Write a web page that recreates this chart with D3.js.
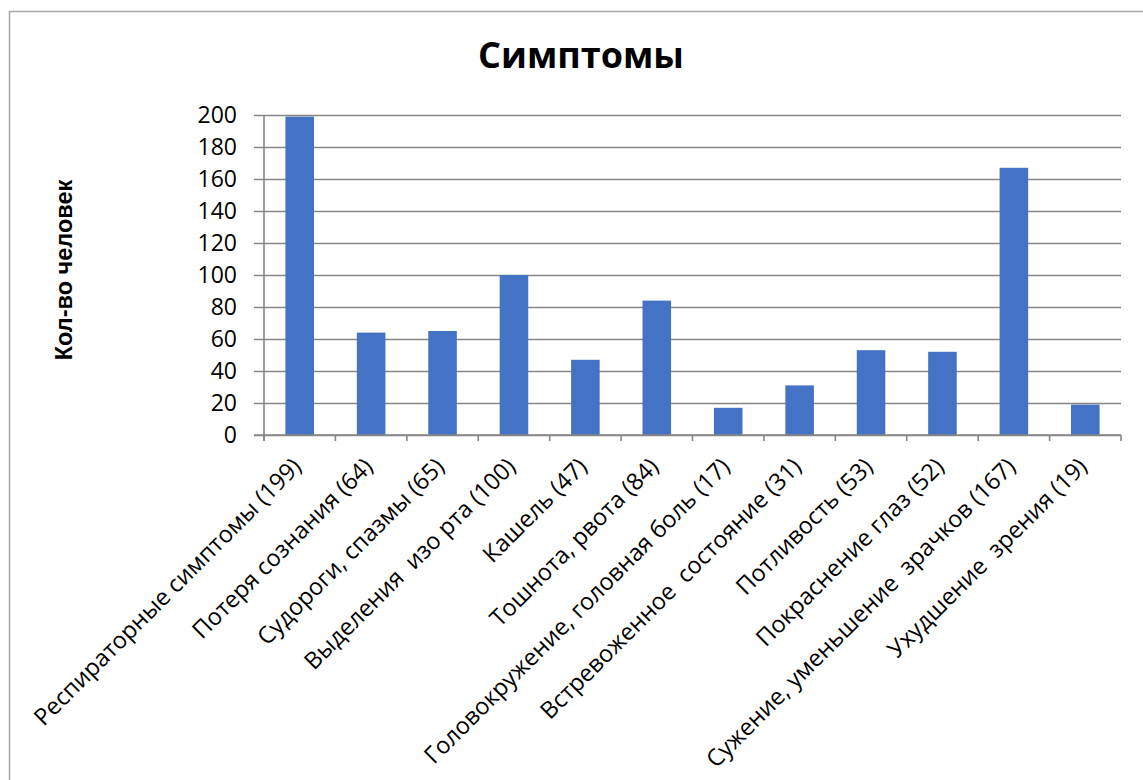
<!DOCTYPE html>
<html>
<head>
<meta charset="utf-8">
<script src="https://cdn.jsdelivr.net/npm/d3@7"></script>
<style>
  html, body { margin: 0; padding: 0; background: #fff; }
  svg { display: block; }
  text { white-space: pre; }
</style>
</head>
<body>
<svg id="chart" width="1143" height="780"></svg>
<script>
// Симптомы: число человек по каждому симптому
const categories = [
  "Респираторные симптомы (199)",
  "Потеря сознания (64)",
  "Судороги, спазмы (65)",
  "Выделения  изо рта (100)",
  "Кашель (47)",
  "Тошнота, рвота (84)",
  "Головокружение, головная боль (17)",
  "Встревоженное  состояние (31)",
  "Потливость (53)",
  "Покраснение глаз (52)",
  "Сужение, уменьшение  зрачков (167)",
  "Ухудшение  зрения (19)"
];
const values = [199, 64, 65, 100, 47, 84, 17, 31, 53, 52, 167, 19];
const yTicks = [0, 20, 40, 60, 80, 100, 120, 140, 160, 180, 200];
const chartTitle = "Симптомы";
const yTitle = "Кол-во человек";

const svg = d3.select("#chart");
const margin = { left: 264, right: 1121, top: 115, bottom: 435 };
const gridColor = "#868686";
const barColor = "#4472C4";

// outer frame of the chart area
svg.append("rect")
  .attr("x", 9.5).attr("y", 11.5)
  .attr("width", 1300).attr("height", 1000)
  .attr("fill", "none")
  .attr("stroke", "#a6a6a6")
  .attr("stroke-width", 1.5);

const x = d3.scaleBand()
  .domain(categories)
  .range([margin.left, margin.right])
  .paddingInner(0.6)
  .paddingOuter(0.3);

const xStep = (margin.right - margin.left) / categories.length;

const y = d3.scaleLinear()
  .domain([0, 200])
  .range([margin.bottom, margin.top]);

// horizontal gridlines with short outward ticks
const yAxis = d3.axisLeft(y)
  .tickValues(yTicks)
  .tickSize(-(margin.right - margin.left))
  .tickSizeOuter(0)
  .tickPadding(10)
  .tickFormat(d3.format("d"));

const gy = svg.append("g")
  .attr("transform", `translate(${margin.left},0)`)
  .call(yAxis);
gy.select(".domain").remove();
gy.selectAll(".tick line")
  .attr("x1", -10)
  .attr("stroke", gridColor)
  .attr("stroke-width", 1.6);
gy.selectAll(".tick text")
  .attr("x", -27)
  .attr("font-family", "'Open Sans', sans-serif")
  .attr("font-size", 23)
  .attr("fill", "#000");

// vertical axis line
svg.append("line")
  .attr("x1", margin.left).attr("x2", margin.left)
  .attr("y1", margin.top).attr("y2", margin.bottom + 6)
  .attr("stroke", gridColor).attr("stroke-width", 1.6);

// bars
svg.append("g")
  .selectAll("rect")
  .data(values)
  .join("rect")
  .attr("x", (d, i) => x(categories[i]))
  .attr("width", x.bandwidth())
  .attr("y", d => y(d))
  .attr("height", d => y(0) - y(d))
  .attr("fill", barColor);

// category axis with boundary ticks
svg.append("line")
  .attr("x1", margin.left - 10).attr("x2", margin.right)
  .attr("y1", margin.bottom).attr("y2", margin.bottom)
  .attr("stroke", gridColor).attr("stroke-width", 1.6);

svg.append("g")
  .selectAll("line")
  .data(d3.range(categories.length + 1))
  .join("line")
  .attr("x1", k => margin.left + k * xStep)
  .attr("x2", k => margin.left + k * xStep)
  .attr("y1", margin.bottom)
  .attr("y2", margin.bottom + 6)
  .attr("stroke", gridColor).attr("stroke-width", 1.6);

// rotated category labels
svg.append("g")
  .selectAll("text")
  .data(categories)
  .join("text")
  .attr("transform", d => `translate(${x(d) + x.bandwidth() / 2 + 3},${margin.bottom + 33}) rotate(-45)`)
  .attr("text-anchor", "end")
  .attr("font-family", "'Open Sans', sans-serif")
  .attr("font-size", 23.5)
  .attr("fill", "#000")
  .text(d => d);

// title
svg.append("text")
  .attr("x", 581).attr("y", 68)
  .attr("text-anchor", "middle")
  .attr("font-family", "'Open Sans', sans-serif")
  .attr("font-weight", 700)
  .attr("font-size", 36)
  .attr("fill", "#000")
  .text(chartTitle);

// vertical axis title
svg.append("text")
  .attr("transform", "translate(72,270) rotate(-90)")
  .attr("text-anchor", "middle")
  .attr("font-family", "'Liberation Sans', Arial, sans-serif")
  .attr("font-weight", 700)
  .attr("font-size", 23.5)
  .attr("fill", "#000")
  .text(yTitle);
</script>
</body>
</html>
